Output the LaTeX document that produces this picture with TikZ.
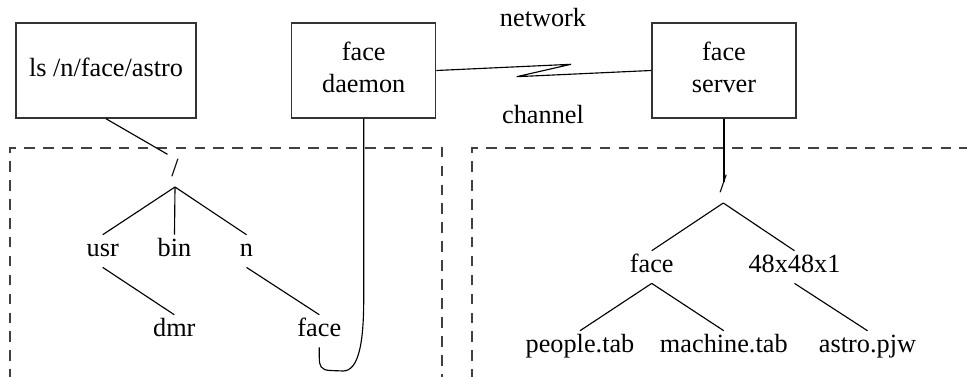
\documentclass[tikz,border=0pt]{standalone}
\usepackage{fontspec}
\setmainfont{Liberation Serif}
\newfontfamily\tmsfont{Liberation Serif}
\newcommand\dstrut{\rule[-5.3pt]{0pt}{5.3pt}}
\begin{document}
\begin{tikzpicture}[x=0.75pt,y=-0.75pt,
  txt/.style={font=\tmsfont\fontsize{19.7}{23.8}\selectfont, text height=13.8pt, text depth=4.9pt, inner sep=2.7pt, anchor=base},
  plain/.style={font=\tmsfont\fontsize{19.7}{23.8}\selectfont, inner sep=0pt, anchor=base},
  box/.style={draw=black!80, line width=1.1pt, font=\tmsfont\fontsize{19.7}{23.8}\selectfont, align=center, minimum height=71.25pt, inner sep=0pt},
  conn/.style={line width=0.85pt, black},
  zone/.style={draw=black!75, line width=1.1pt, dash pattern=on 8pt off 6.2pt}
]
\useasboundingbox (0,0) rectangle (967,377);

% dashed zones
\draw[zone] (10,380) -- (10,148) -- (442,148) -- (442,380);
\draw[zone] (472,380) -- (472,148) -- (970,148);

% boxes
\node[box, minimum width=135pt] (ls) at (106,70.5) {ls /n/face/astro\dstrut};
\node[box, minimum width=108pt] (daemon) at (363.7,70.5) {face\\daemon\dstrut};
\node[box, minimum width=108.2pt] (server) at (724,70.5) {face\\server\dstrut};

% network labels
\node[plain] (net) at (543,26.7) {network};
\node[plain] (chan) at (543,123.3) {channel};
\coordinate (z1) at (571,64.3);
\coordinate (z2) at (516.7,76.7);
\draw[conn] (daemon.east) -- (z1) -- (z2) -- (server.west);

% left tree
\node[txt] (lroot) at (175,176.6) {/};
\node[txt] (usr) at (102.7,257) {usr};
\node[txt] (bin) at (174.5,257) {bin};
\node[txt] (n) at (246.5,257) {n};
\node[txt] (dmr) at (174.3,337) {dmr};
\node[txt] (lface) at (319.3,337) {face};
\draw[conn] (ls.south) -- (lroot.north west);
\draw[conn] (lroot.south) -- (usr.north);
\draw[conn] (lroot.south) -- (bin.north);
\draw[conn] (lroot.south) -- (n.north);
\draw[conn] (usr.south) -- (dmr.north);
\draw[conn] (n.south) -- (lface.north);
\draw[conn] (daemon.south) -- (363.7,300) .. controls (363.7,345) and (358,371) .. (343,371)
  -- (330,370.5) .. controls (321,370) and (319.3,366) .. (319.3,358) -- (lface.south);

% right tree
\node[txt] (rroot) at (723.3,192.6) {/};
\coordinate (stub) at (724,181.7);
\node[txt] (rface) at (651.7,273) {face};
\node[txt] (res) at (794.5,273) {48x48x1};
\node[txt] (people) at (580,353) {people.tab};
\node[txt] (machine) at (723.8,353) {machine.tab};
\node[txt] (astro) at (867.5,353) {astro.pjw};
\draw[conn] (server.south) -- (stub);
\draw[conn] (rroot.south) -- (rface.north);
\draw[conn] (rroot.south) -- (res.north);
\draw[conn] (rface.south) -- (people.north);
\draw[conn] (rface.south) -- (machine.north);
\draw[conn] (res.south) -- (astro.north);
\end{tikzpicture}
\end{document}
